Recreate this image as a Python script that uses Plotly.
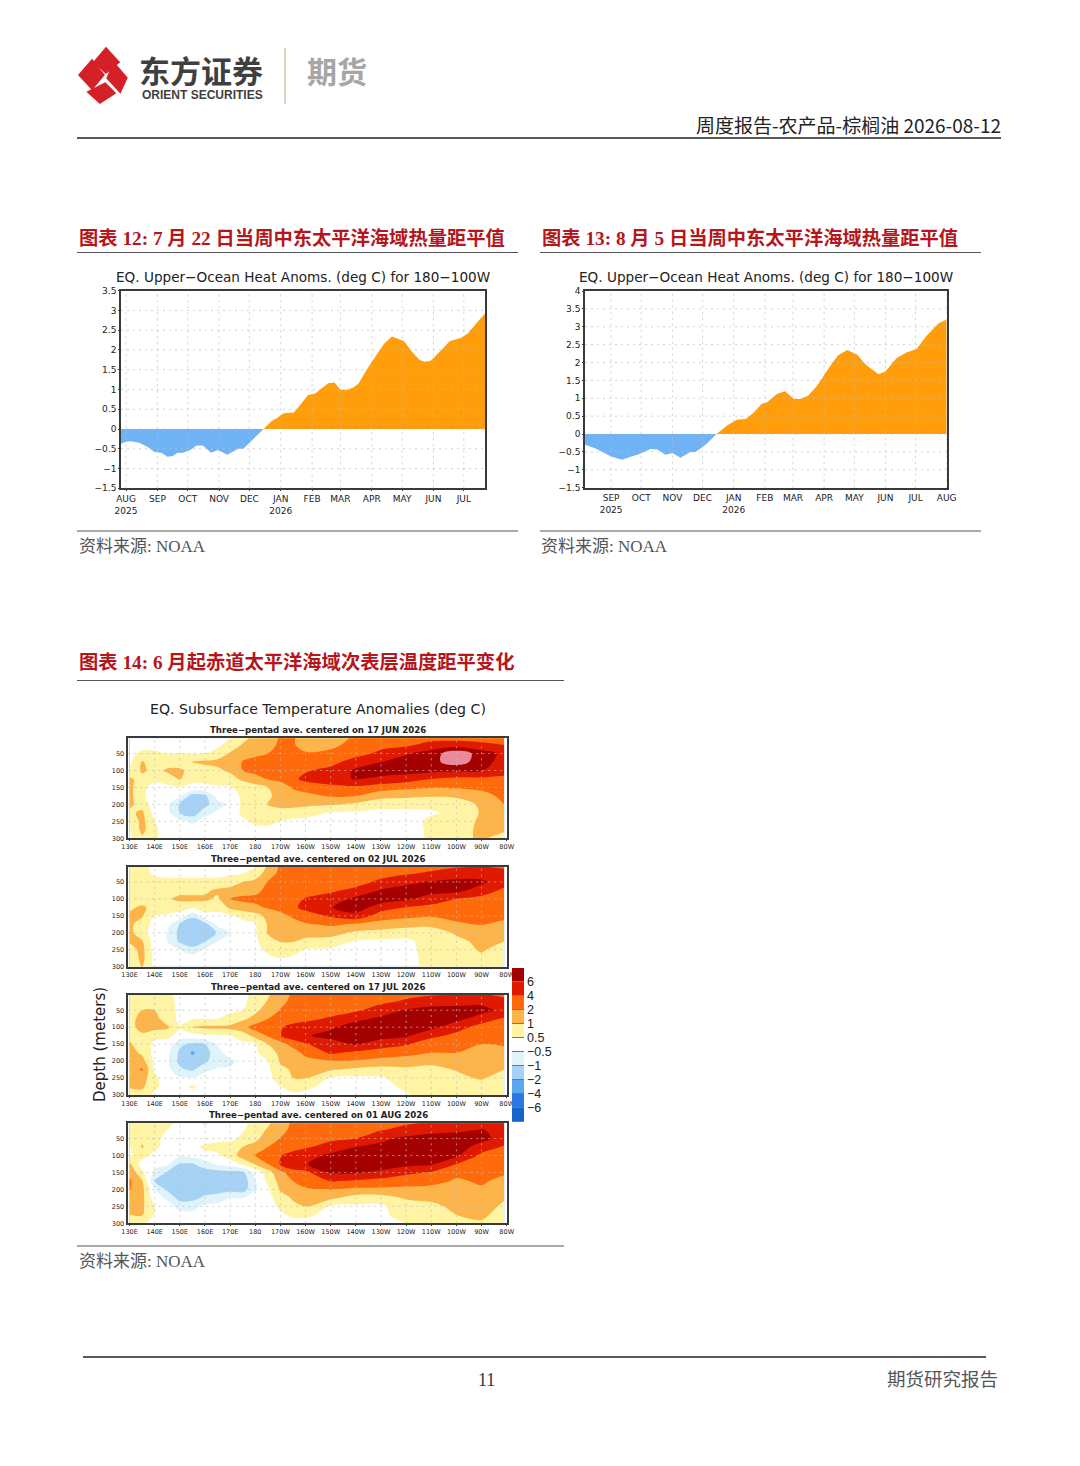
import numpy as np
import plotly.graph_objects as go

W, H = 1080, 1466

# upper ocean heat anomalies, chart 12
dates_12 = ["2025-07-27","2025-08-01","2025-08-06","2025-08-14","2025-08-22","2025-08-29","2025-09-05","2025-09-11",
            "2025-09-16","2025-09-21","2025-09-26","2025-10-03","2025-10-10","2025-10-16","2025-10-24","2025-10-31",
            "2025-11-09","2025-11-20","2025-11-25","2025-12-01","2025-12-08","2025-12-15","2025-12-23","2025-12-28",
            "2026-01-04","2026-01-14","2026-01-20","2026-01-28","2026-02-04","2026-02-11","2026-02-17","2026-02-23",
            "2026-03-01","2026-03-06","2026-03-14","2026-03-19","2026-03-27","2026-04-05","2026-04-13","2026-04-21",
            "2026-05-03","2026-05-11","2026-05-18","2026-05-23","2026-05-29","2026-06-07","2026-06-17","2026-06-28",
            "2026-07-05","2026-07-15","2026-07-22"]
heat_12 = [-0.37,-0.32,-0.31,-0.35,-0.45,-0.58,-0.60,-0.70,-0.68,-0.60,-0.60,-0.54,-0.42,-0.42,-0.60,-0.53,-0.65,
           -0.50,-0.50,-0.35,-0.15,0,0.20,0.27,0.40,0.42,0.60,0.86,0.90,1.05,1.16,1.18,1.00,0.98,1.05,1.15,1.50,
           1.85,2.15,2.34,2.22,1.95,1.75,1.70,1.72,1.95,2.22,2.30,2.42,2.72,2.92]

# chart 13
dates_13 = ["2025-08-06","2025-08-16","2025-09-01","2025-09-12","2025-09-22","2025-09-30","2025-10-10","2025-10-17",
            "2025-10-25","2025-11-01","2025-11-09","2025-11-19","2025-11-24","2025-12-04","2025-12-15","2025-12-25",
            "2026-01-04","2026-01-13","2026-01-21","2026-01-29","2026-02-03","2026-02-13","2026-02-21","2026-03-02",
            "2026-03-08","2026-03-16","2026-03-25","2026-04-07","2026-04-15","2026-04-24","2026-05-04","2026-05-12",
            "2026-05-25","2026-06-01","2026-06-12","2026-06-22","2026-07-02","2026-07-12","2026-07-24","2026-08-01"]
heat_13 = [-0.30,-0.40,-0.63,-0.72,-0.62,-0.55,-0.42,-0.43,-0.58,-0.53,-0.66,-0.50,-0.50,-0.30,0,0.23,0.40,0.42,
           0.60,0.85,0.88,1.12,1.20,0.98,0.98,1.07,1.35,1.90,2.20,2.35,2.22,1.95,1.67,1.75,2.12,2.28,2.38,2.75,3.10,3.20]

month_dates_12 = ["2025-08-01","2025-09-01","2025-10-01","2025-11-01","2025-12-01","2026-01-01","2026-02-01",
                  "2026-03-01","2026-04-01","2026-05-01","2026-06-01","2026-07-01"]
month_text_12 = ["AUG<br>2025","SEP","OCT","NOV","DEC","JAN<br>2026","FEB","MAR","APR","MAY","JUN","JUL"]
month_dates_13 = month_dates_12[1:] + ["2026-08-01"]
month_text_13 = ["SEP<br>2025","OCT","NOV","DEC","JAN<br>2026","FEB","MAR","APR","MAY","JUN","JUL","AUG"]
y_ticks_12 = [-1.5,-1,-0.5,0,0.5,1,1.5,2,2.5,3,3.5]
y_ticks_13 = [-1.5,-1,-0.5,0,0.5,1,1.5,2,2.5,3,3.5,4]

# subsurface sections: one depth profile per longitude
lons = [130,135,140,145,150,155,160,165,170,175,180,185,190,195,200,210,220,230,240,250,260,270,279]
lon_text = ["130E","140E","150E","160E","170E","180","170W","160W","150W","140W","130W","120W","110W","100W","90W","80W"]
lon_ticks = [130,140,150,160,170,180,190,200,210,220,230,240,250,260,270,280]
depths = [0,25,50,75,100,125,150,175,200,225,250,275,300]
depth_ticks = [50,100,150,200,250,300]

jun17 = [
    [0.2,0.2,0.2,0.3,0.4,1.2,1.3,1.3,1.2,0.9,0.6,0.4,0.3],
    [0.1,0.2,0.6,1.1,1.2,0.8,0.6,0.6,0.8,1.2,1.3,1.3,0.9],
    [0.1,0.1,0.6,0.7,0.8,0.6,0.2,0,0,0.1,0.5,0.6,0.6],
    [0.1,0.1,0.5,0.7,1.2,0.7,0.3,-0.1,-0.2,-0.2,0,0,0],
    [0.1,0.1,0.5,0.7,1.2,1.1,0.4,-0.3,-1.1,-1,-0.2,0,0],
    [0.1,0.1,0.5,1.05,0.8,0.6,0.3,-1.5,-1.7,-1.6,-0.6,0,0],
    [0.1,0.2,0.5,1.2,0.8,0.6,0.3,-1.2,-1.3,-0.7,-0.1,0,0],
    [0.2,0.3,0.7,1.3,0.9,0.7,0.4,-0.1,-0.7,-0.3,0,0,0],
    [0.4,0.7,1.1,1.5,1.2,0.8,0.4,0,-0.3,-0.1,0,0,0],
    [0.8,1.1,1.4,2.1,2,1.2,0.7,0.6,0.6,0.6,0.3,0.1,0],
    [1.2,1.4,1.8,2.6,2.6,1.6,0.8,0.7,0.7,0.7,0.6,0.2,0],
    [1.5,1.6,2,2.9,3.1,2.1,1,0.9,1.05,0.7,0.6,0.3,0],
    [2.2,2.4,2.6,3,3.4,2.5,1.5,1.4,1.3,0.8,0.5,0.2,0],
    [2.2,2.2,2.5,3,3.6,3.6,2.2,1.6,1.4,0.7,0.3,0.1,0],
    [1.6,1.6,2.2,3,3.8,4.5,2.8,1.7,1.2,0.7,0.2,0,0],
    [1.6,1.8,2.4,3.3,4.6,5.5,3.2,2.2,1.1,0.4,0.1,0,0],
    [2.2,2.6,3.2,5,6.3,6.1,3.6,2,0.9,0.3,0.1,0,0],
    [3,3.4,4.5,6,7,5.5,3,1.3,0.7,0.2,0.1,0,0],
    [3,3.6,5.8,7,6.8,5,2.4,1.2,0.7,0.2,0.1,0,0],
    [3,4.8,6.9,7.4,6.6,4,2.1,1.1,0.6,0.4,0.6,0.6,0.6],
    [3,5,9.5,9,6.2,3.5,2.2,1.2,0.7,0.6,0.7,0.8,0.8],
    [3,4.5,7,7,6.2,3.5,2.4,1.7,1.2,1.1,1.2,1.2,1.2],
    [3,4,5.5,5,4.5,3.7,2.8,2.4,2,1.6,1.4,1.2,0.7],
]
jul02 = [
    [0.7,0.7,0.6,0.6,0.7,0.9,1.2,1.2,1.3,1.1,0.8,0.6,0.5],
    [0.6,0.6,0.6,0.6,0.7,1.2,1.1,0.8,0.7,1.1,1.3,1.3,1.1],
    [0.3,0.4,0.6,0.7,0.7,0.8,0.5,0.1,0,0,0.1,0.2,0.1],
    [0.2,0.3,0.6,0.7,0.9,0.7,0.4,-0.1,-0.5,-0.5,-0.2,0,0],
    [0.2,0.3,0.6,0.8,1.3,0.6,0.3,-1.05,-1.3,-1.2,-0.5,0,0],
    [0.2,0.3,0.6,0.8,1.3,0.6,-0.9,-1.7,-1.9,-1.7,-0.8,-0.1,0],
    [0.2,0.3,0.6,0.9,1.2,0.7,0.2,-1.4,-1.7,-1.05,-0.3,0,0],
    [0.2,0.3,0.6,1.2,0.9,0.6,0.3,-0.2,-0.95,-0.5,-0.1,0,0],
    [0.2,0.4,0.7,1.4,2.1,1.2,0.4,0,-0.5,-0.4,0,0,0],
    [0.3,0.5,1,1.6,2.4,1.6,0.6,0.3,0,0,0,0,0],
    [0.4,0.7,1.3,1.7,2.5,1.8,0.8,0.4,0.4,0.3,0.2,0,0],
    [1.1,1.5,2.1,2.6,3,2.2,1.3,1.1,1.1,0.8,0.6,0.3,0],
    [2.3,2.5,2.7,3,3.5,2.7,1.7,1.4,1.3,1.05,0.8,0.5,0.2],
    [2.6,2.7,2.9,3.2,3.6,3.6,2.3,1.6,1.3,1.05,0.7,0.3,0.1],
    [2.7,2.8,3,3.4,4.1,4.6,3,1.9,1.3,0.9,0.4,0.1,0],
    [2.6,2.8,3,3.7,4.8,5.9,4.3,2.3,1.4,0.8,0.3,0.1,0],
    [2.8,3,3.3,4.5,6.5,7,5.4,1.9,0.9,0.4,0.1,0,0],
    [3,3.3,4.4,6.2,7,5,3,1.6,0.8,0.3,0.1,0,0],
    [3,3.8,5.5,6.8,6.4,3.9,2.5,1.4,0.7,0.3,0.2,0.1,0.1],
    [3.2,4.3,6.2,6.8,5,3.5,2.2,1.2,0.8,0.7,0.7,0.7,0.7],
    [3.6,4.8,6.6,6.6,4,3.2,2.4,1.9,1.1,0.9,0.8,0.8,0.7],
    [3.8,5,6.4,5,3.4,3,2.6,2.1,1.5,1.2,1.1,0.9,0.7],
    [3.5,4.6,4.8,3.6,3,2.8,2.4,1.8,1.4,1,0.8,0.6,0.5],
]
jul17 = [
    [0.6,0.6,0.7,0.8,0.8,0.9,1.1,1.4,1.5,1.6,1.3,1.1,0.8],
    [0.6,0.6,1,1.4,1.4,0.9,0.8,0.9,1.4,2.2,1.5,1.2,0.8],
    [0.8,0.9,1,1.4,1.4,0.6,0.3,0.2,0.2,0.4,0.6,0.6,0.3],
    [0.6,0.7,0.7,0.7,1.2,0.6,0.2,-0.2,-0.3,-0.2,0,0.1,0],
    [0.2,0.2,0.3,0.3,0.5,0.2,-0.9,-1.2,-1.3,-0.9,-0.3,0,0],
    [0.2,0.2,0.3,0.4,1.05,0.1,-1.2,-2.3,-1.6,-1.2,-0.4,0.6,0],
    [0.2,0.2,0.3,0.5,1.2,0.3,-1,-1.4,-1.2,-0.6,-0.1,0,0],
    [0.2,0.2,0.3,0.5,1.2,0.4,-0.4,-0.7,-0.7,-0.4,0,0,0],
    [0.2,0.3,0.4,0.6,1.3,0.5,0.4,0,-0.6,-0.4,0,0,0],
    [0.3,0.3,0.5,0.9,1.7,0.7,0.3,0.3,-0.2,-0.1,0,0,0],
    [0.6,0.7,0.9,1.3,2.8,1.4,0.4,0.3,0.2,0.1,0,0,0],
    [0.9,1.1,1.4,2,3.1,2.2,1,0.8,0.5,0.3,0.1,0,0],
    [1.6,1.8,2.1,2.7,3.8,3.9,1.6,1.2,1.1,0.9,0.8,0.5,0.2],
    [2.2,2.4,2.6,3.1,4.6,5.2,2.7,1.6,1.3,1.1,1,0.7,0.3],
    [2.5,2.7,3,3.6,4.8,5.8,3.8,2.5,1.7,1.4,1.05,0.6,0.3],
    [2.8,3,3.4,4.2,5.7,6.6,5.2,4.3,1.9,1.1,0.4,0.2,0.2],
    [3,3.2,3.7,5.5,7,7.2,6.2,3.6,1.9,0.9,0.3,0.2,0.1],
    [3.2,3.6,5,6.4,7.2,6.8,5,3,1.7,0.8,0.4,0.2,0.2],
    [3.4,4.3,6.2,7.2,7,6.3,4.2,2.7,1.5,0.9,0.7,0.6,0.4],
    [3.6,5,6.8,7.2,6.6,4.4,3,2,1.2,0.9,0.8,0.7,0.7],
    [3.8,5,7,6.8,4.6,3.6,2.6,2,1.2,1.05,0.9,0.8,0.7],
    [3.9,5.4,6.8,4.8,3.4,2.4,2,1.7,1.5,1.3,1.1,0.8,0.6],
    [3.5,4.5,5.2,3.8,3.1,2.8,2.2,1.7,1.2,1,0.8,0.6,0.5],
]
aug01 = [
    [0.6,0.6,0.6,0.5,0.4,1.2,1.8,2.3,2.1,1.5,1.2,1,0.6],
    [0.6,0.8,0.9,1.1,0.7,0,0.6,1.1,1.3,1.3,1.2,1.1,0.6],
    [0.7,0.7,0.6,0.6,0.2,-0.2,-0.6,-1.1,-0.4,-0.1,0.5,0.4,0.1],
    [0.6,0.5,0.3,0.2,0,-0.3,-1.1,-1.3,-1.2,-0.6,0,0,0],
    [0.4,0.2,0.1,0.1,-0.3,-1.1,-1.6,-1.8,-1.7,-1.4,-0.7,-0.1,0],
    [0,0,0.1,0.2,-0.2,-1.1,-1.5,-1.9,-1.7,-1.3,-0.7,-0.2,0],
    [-0.6,-0.3,0.1,0.6,0.1,-0.7,-1.5,-1.7,-1.5,-0.9,-0.2,0,0],
    [-0.1,0,0.2,0.7,0.3,-0.3,-1.4,-1.7,-1.4,-0.8,-0.1,0,0],
    [0.1,0.2,0.3,0.7,0.7,0,-1.3,-1.7,-1.4,-0.5,-0.1,0,0],
    [0.3,0.4,0.6,1,1.5,0.6,-1.2,-1.6,-1.5,-0.5,0,0,0],
    [0.6,0.8,0.9,1.3,2.2,1.1,-0.2,-0.55,-0.55,0,0,0,0],
    [0.9,1.1,1.4,2,2.9,2,0.8,0.6,0.3,0.1,0,0,0],
    [1.5,1.7,2.1,2.7,3.9,4.2,1.7,1.4,1.1,0.8,0.6,0.3,0.1],
    [2.3,2.5,2.8,3.4,4.6,5.5,3.2,2,1.5,1.1,0.9,0.6,0.1],
    [2.7,2.9,3.2,3.8,5,5.9,3.5,2.7,1.9,1.4,1,0.6,0.1],
    [2.9,3.1,3.7,4.6,6.5,7,6.2,4.1,2,1.2,0.4,0.2,0.1],
    [3.1,3.4,4,6,7,7.2,6.2,3.8,1.8,0.8,0.3,0.2,0.1],
    [3.3,3.9,5.5,6.6,7.2,7,5.6,3.3,1.8,0.8,0.3,0.3,0.2],
    [3.6,4.6,6.5,7.2,7.4,6.6,4.5,2.8,1.8,1.1,0.8,0.7,0.5],
    [4,5.2,7.1,7.5,7.2,6.3,3.8,2.6,1.7,1.2,0.9,0.8,0.7],
    [4.4,5.5,7.2,7.2,6.4,4,2.4,1.9,1.4,1.3,1.2,1,0.8],
    [4.6,6.1,6.8,5,3.5,2.6,2.4,2.2,1.9,1.7,1.5,1.3,0.9],
    [4.5,5.5,4.9,3.8,3.1,2.8,2.2,1.8,1.4,1.1,0.9,0.7,0.5],
]
section_dates = ["17 JUN", "02 JUL", "17 JUL", "01 AUG"]
sections = [jun17, jul02, jul17, aug01]

levels = [-6,-4,-2,-1,-0.5,0.5,1,2,4,6,8,10]
level_text = ["−6","−4","−2","−1","−0.5","0.5","1","2","4","6"]
band_colors = ["#1763cc","#2a78e0","#5ca8ee","#a6d2f5","#dff3fb","#ffffff","#fff4a3","#fdb44a","#ff6a0a","#df1a00","#a50000","#e88a9a"]

ORANGE = "#ff9d0a"
BLUE = "#6fb3f5"
RED_TITLE = "#b5161b"
GRID = "rgba(190,190,190,0.7)"
FRAME = "#3a3a3a"
TEXT = "#222222"
SERIF = "Liberation Serif, Noto Sans CJK SC"
SANS = "Noto Sans CJK SC"
PLOT = "DejaVu Sans"


def fx(px):
    return px / W


def fy(py):
    return 1 - py / H


fig = go.Figure()
shapes = []
notes = []


def add_text(x, y, text, size, color=TEXT, family=SANS, anchor="left", angle=0):
    notes.append(dict(x=fx(x), y=fy(y), xref="paper", yref="paper", text=text, showarrow=False,
                      xanchor=anchor, yanchor="middle", textangle=angle,
                      font=dict(size=size, color=color, family=family)))


def add_rule(x0, x1, y, color="#333333", width=1):
    shapes.append(dict(type="line", xref="paper", yref="paper", x0=fx(x0), x1=fx(x1), y0=fy(y), y1=fy(y),
                       line=dict(color=color, width=width)))


def add_grid(idx, xs, ys):
    # dotted grid sits above the fill in the original
    xr, yr = f"x{idx}", f"y{idx}"
    dots = dict(color=GRID, width=1, dash="2px,4px")
    for v in xs:
        shapes.append(dict(type="line", xref=xr, yref=f"{yr} domain", x0=v, x1=v, y0=0, y1=1, line=dots))
    for v in ys:
        shapes.append(dict(type="line", xref=f"{xr} domain", yref=yr, x0=0, x1=1, y0=v, y1=v, line=dots))


def set_axes(idx, box, xkw, ykw):
    x0, x1, y0, y1 = box
    frame = dict(showline=True, mirror=True, linecolor=FRAME, linewidth=1.5, showgrid=False, zeroline=False,
                 ticks="outside", ticklen=1, tickcolor=FRAME, tickwidth=1, automargin=False)
    fig.update_layout({
        f"xaxis{idx}": dict(domain=[fx(x0), fx(x1)], anchor=f"y{idx}", **frame, **xkw),
        f"yaxis{idx}": dict(domain=[fy(y1), fy(y0)], anchor=f"x{idx}", **frame, **ykw),
    })


def heat_chart(idx, box, dates, heat, month_dates, month_text, y_ticks, x_range):
    pos = [v if v > 0 else 0 for v in heat]
    neg = [v if v < 0 else 0 for v in heat]
    for vals, col in [(pos, ORANGE), (neg, BLUE)]:
        fig.add_trace(go.Scatter(x=dates, y=vals, mode="lines", line=dict(width=0), fill="tozeroy", fillcolor=col,
                                 xaxis=f"x{idx}", yaxis=f"y{idx}", showlegend=False, hoverinfo="skip"))
    tick_font = dict(size=9, color=TEXT, family=PLOT)
    set_axes(idx, box,
             dict(type="date", range=x_range, tickvals=month_dates, ticktext=month_text, tickfont=tick_font, tickangle=0),
             dict(range=[y_ticks[0], y_ticks[-1]], tickvals=y_ticks, ticktext=[str(v).replace("-", "−") for v in y_ticks],
                  tickfont=tick_font))
    add_grid(idx, month_dates, y_ticks[1:-1])


heat_chart(2, (121, 485, 290.7, 488.3), dates_12, heat_12, month_dates_12, month_text_12, y_ticks_12,
           ["2025-07-27", "2026-07-22"])
heat_chart(3, (585, 946.7, 291, 487.7), dates_13, heat_13, month_dates_13, month_text_13, y_ticks_13,
           ["2025-08-06", "2026-08-01"])
add_text(303, 277, "EQ. Upper−Ocean Heat Anoms. (deg C) for 180−100W", 13.6, family=PLOT, anchor="center")
add_text(766, 277, "EQ. Upper−Ocean Heat Anoms. (deg C) for 180−100W", 13.6, family=PLOT, anchor="center")

# subsurface panels
band_scale = []
for i, c in enumerate(band_colors):
    band_scale += [[i / len(band_colors), c], [(i + 1) / len(band_colors), c]]

level_pos = np.arange(len(levels))
panel_tops = [738.3, 866.7, 995, 1123.3]
for k, (top, section, label) in enumerate(zip(panel_tops, sections, section_dates)):
    idx = 4 + k
    z = np.array(section, dtype=float).T
    fig.add_trace(go.Contour(x=lons, y=depths, z=np.interp(z, levels, level_pos), xaxis=f"x{idx}", yaxis=f"y{idx}",
                             autocontour=False, contours=dict(start=0, end=10, size=1, coloring="fill"),
                             colorscale=band_scale, zauto=False, zmin=-1, zmax=11, showscale=False,
                             line=dict(width=0, smoothing=1), hoverinfo="skip"))
    tick_font = dict(size=6.5, color=TEXT, family=PLOT)
    set_axes(idx, (128.3, 506.7, top, top + 100),
             dict(range=[129.5, 280], tickvals=lon_ticks, ticktext=lon_text, tickfont=tick_font, tickangle=0),
             dict(range=[300, 5], tickvals=depth_ticks, tickfont=tick_font))
    add_grid(idx, lon_ticks[1:-1], depth_ticks[:-1])
    add_text(318, top - 8, f"<b>Three−pentad ave. centered on {label} 2026</b>", 8.6, family=PLOT, anchor="center")

# colour key, gaps let the grey backing show as separators
bands = list(range(len(level_text) + 1))
fig.add_trace(go.Heatmap(x=[0], y=bands, z=[[b] for b in bands], xaxis="x8", yaxis="y8", showscale=False,
                         colorscale=band_scale, zmin=-0.5, zmax=11.5, xgap=0, ygap=1, hoverinfo="skip"))
fig.update_layout(
    xaxis8=dict(domain=[fx(512), fx(524)], anchor="y8", visible=False, automargin=False),
    yaxis8=dict(domain=[fy(1122), fy(968)], anchor="x8", side="right", range=[-0.5, 10.5], showline=False, showgrid=False,
                zeroline=False, tickvals=[b + 0.5 for b in bands[:-1]], ticktext=level_text, ticks="", automargin=False,
                ticklabelstandoff=2, tickfont=dict(size=12.5, color=TEXT, family="Liberation Sans")),
)
shapes.append(dict(type="rect", xref="x8 domain", yref="y8 domain", x0=0, x1=1, y0=0, y1=1, layer="below",
                   fillcolor="#777777", line=dict(width=0)))

add_text(318, 709, "EQ. Subsurface Temperature Anomalies (deg C)", 14.1, family=PLOT, anchor="center")
add_text(100, 1045, "Depth (meters)", 15, family=PLOT, anchor="center", angle=-90)

# page furniture
add_rule(77, 1001, 138, "#222222", 1.5)
add_rule(77, 518, 252.5, "#555555")
add_rule(540, 981, 252.5, "#555555")
add_rule(77, 518, 531, "#555555")
add_rule(540, 981, 531, "#555555")
add_rule(77, 564, 680.5, "#555555")
add_rule(77, 564, 1246, "#555555")
add_rule(83, 986, 1357, "#222222", 1.5)
shapes.append(dict(type="line", xref="paper", yref="paper", x0=fx(285), x1=fx(285), y0=fy(48), y1=fy(104),
                   line=dict(color="#cfcbb4", width=1.5)))

logo_paths = [
    [(106, 49), (118, 62), (106, 72), (95, 62)],
    [(80, 75), (92, 61), (103, 75), (92, 88)],
    [(114, 64), (126, 78), (120, 91), (108, 78)],
    [(105, 84), (114, 93), (100, 102), (89, 92)],
]
for pts in logo_paths:
    d = "M " + " L ".join(f"{fx(a):.5f},{fy(b):.5f}" for a, b in pts) + " Z"
    shapes.append(dict(type="path", xref="paper", yref="paper", path=d, fillcolor="#d42027",
                       line=dict(color="#d42027", width=3)))

add_text(137, 69, "<b>东方证券</b>", 31, color="#3f3f3f")
add_text(140, 95, "<b>ORIENT SECURITIES</b>", 12, color="#3f3f3f", family="Liberation Sans")
add_text(305, 70, "<b>期货</b>", 30, color="#a6a6a6")
add_text(1003, 124, "周度报告-农产品-棕榈油 2026-08-12", 19, anchor="right", family="Noto Sans CJK SC")

add_text(77, 238, "<b>图表 12: 7 月 22 日当周中东太平洋海域热量距平值</b>", 19.3, color=RED_TITLE, family=SERIF)
add_text(540, 238, "<b>图表 13: 8 月 5 日当周中东太平洋海域热量距平值</b>", 19.3, color=RED_TITLE, family=SERIF)
add_text(77, 662, "<b>图表 14: 6 月起赤道太平洋海域次表层温度距平变化</b>", 19.3, color=RED_TITLE, family=SERIF)
add_text(77, 546, "资料来源: NOAA", 17, color="#555555", family=SERIF)
add_text(539, 546, "资料来源: NOAA", 17, color="#555555", family=SERIF)
add_text(77, 1261, "资料来源: NOAA", 17, color="#555555", family=SERIF)
add_text(486, 1380, "11", 18, color="#333333", family=SERIF, anchor="center")
add_text(1000, 1380, "期货研究报告", 18.5, color="#555555", family=SERIF, anchor="right")

fig.update_layout(width=W, height=H, autosize=False, margin=dict(l=0, r=0, t=0, b=0), paper_bgcolor="white",
                  plot_bgcolor="white", showlegend=False, shapes=shapes, annotations=notes)
# page margin would push everything 8px off
fig.write_html("out.html", config=dict(displayModeBar=False), post_script="document.body.style.margin='0';")
